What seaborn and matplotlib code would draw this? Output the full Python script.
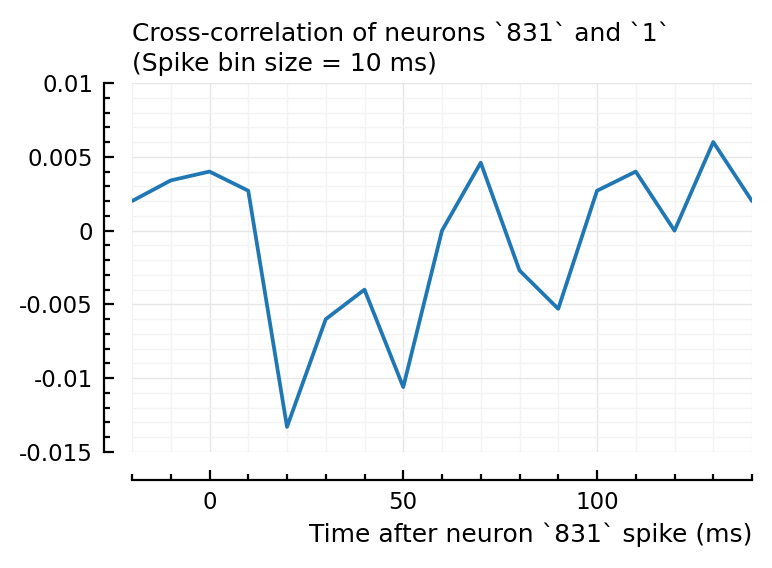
import numpy as np
import pandas as pd
import matplotlib
matplotlib.use("Agg")
import matplotlib.pyplot as plt
import seaborn as sns
from matplotlib.ticker import MultipleLocator, FixedLocator, FixedFormatter

# ---- data ----
lag_ms = [-20, -10, 0, 10, 20, 30, 40, 50, 60, 70, 80, 90, 100, 110, 120, 130, 140]
xcorr = [0.0020, 0.0034, 0.0040, 0.0027, -0.0133, -0.0060, -0.0040, -0.0106,
         0.0000, 0.0046, -0.0027, -0.0053, 0.0027, 0.0040, 0.0000, 0.0060, 0.0020]
x_ticks = [0, 50, 100]
x_tick_labels = ["0", "50", "100"]
y_ticks = [-0.015, -0.01, -0.005, 0, 0.005, 0.01]
y_tick_labels = ["-0.015", "-0.01", "-0.005", "0", "0.005", "0.01"]
title_text = "Cross-correlation of neurons `831` and `1`\n(Spike bin size = 10 ms)"
xlabel_text = "Time after neuron `831` spike (ms)"

df = pd.DataFrame({"lag": lag_ms, "xcorr": xcorr})

sns.set_theme(style="white")
plt.rcParams["font.family"] = ["DejaVu Sans"]
plt.rcParams["text.color"] = "black"
plt.rcParams["axes.labelcolor"] = "black"

W, H = 772, 568
fig = plt.figure(figsize=(W / 100, H / 100), dpi=100)
ax = fig.add_axes([132 / W, 1 - 452 / H, (752 - 132) / W, (452 - 83) / H])

sns.lineplot(data=df, x="lag", y="xcorr", ax=ax, color="#1f77b4", linewidth=2.7)

ax.set_xlim(-20, 140)
ax.set_ylim(-0.015, 0.01)

ax.xaxis.set_major_locator(FixedLocator(x_ticks))
ax.xaxis.set_major_formatter(FixedFormatter(x_tick_labels))
ax.xaxis.set_minor_locator(MultipleLocator(10))
ax.yaxis.set_major_locator(FixedLocator(y_ticks))
ax.yaxis.set_major_formatter(FixedFormatter(y_tick_labels))
ax.yaxis.set_minor_locator(MultipleLocator(0.001))

ax.grid(True, which="major", color="#e6e6e6", linewidth=1.0)
ax.grid(True, which="minor", color="#f3f3f3", linewidth=1.0)
ax.set_axisbelow(True)

for s in ["top", "right"]:
    ax.spines[s].set_visible(False)
for s in ["left", "bottom"]:
    ax.spines[s].set_visible(True)
    ax.spines[s].set_color("black")
    ax.spines[s].set_linewidth(1.6)
    ax.spines[s].set_position(("outward", 20))

ax.tick_params(axis="both", which="major", direction="in", length=7, width=1.6,
               color="black", labelsize=16.5, labelcolor="black", pad=8,
               bottom=True, left=True)
ax.tick_params(axis="both", which="minor", direction="in", length=4.3, width=1.6,
               color="black", bottom=True, left=True)

ax.set_title(title_text, loc="left", fontsize=18, pad=9, linespacing=1.3, color="black")
ax.set_xlabel(xlabel_text, loc="right", fontsize=18, labelpad=6)
ax.set_ylabel("")

fig.savefig("out.png", dpi=100, facecolor="white")
